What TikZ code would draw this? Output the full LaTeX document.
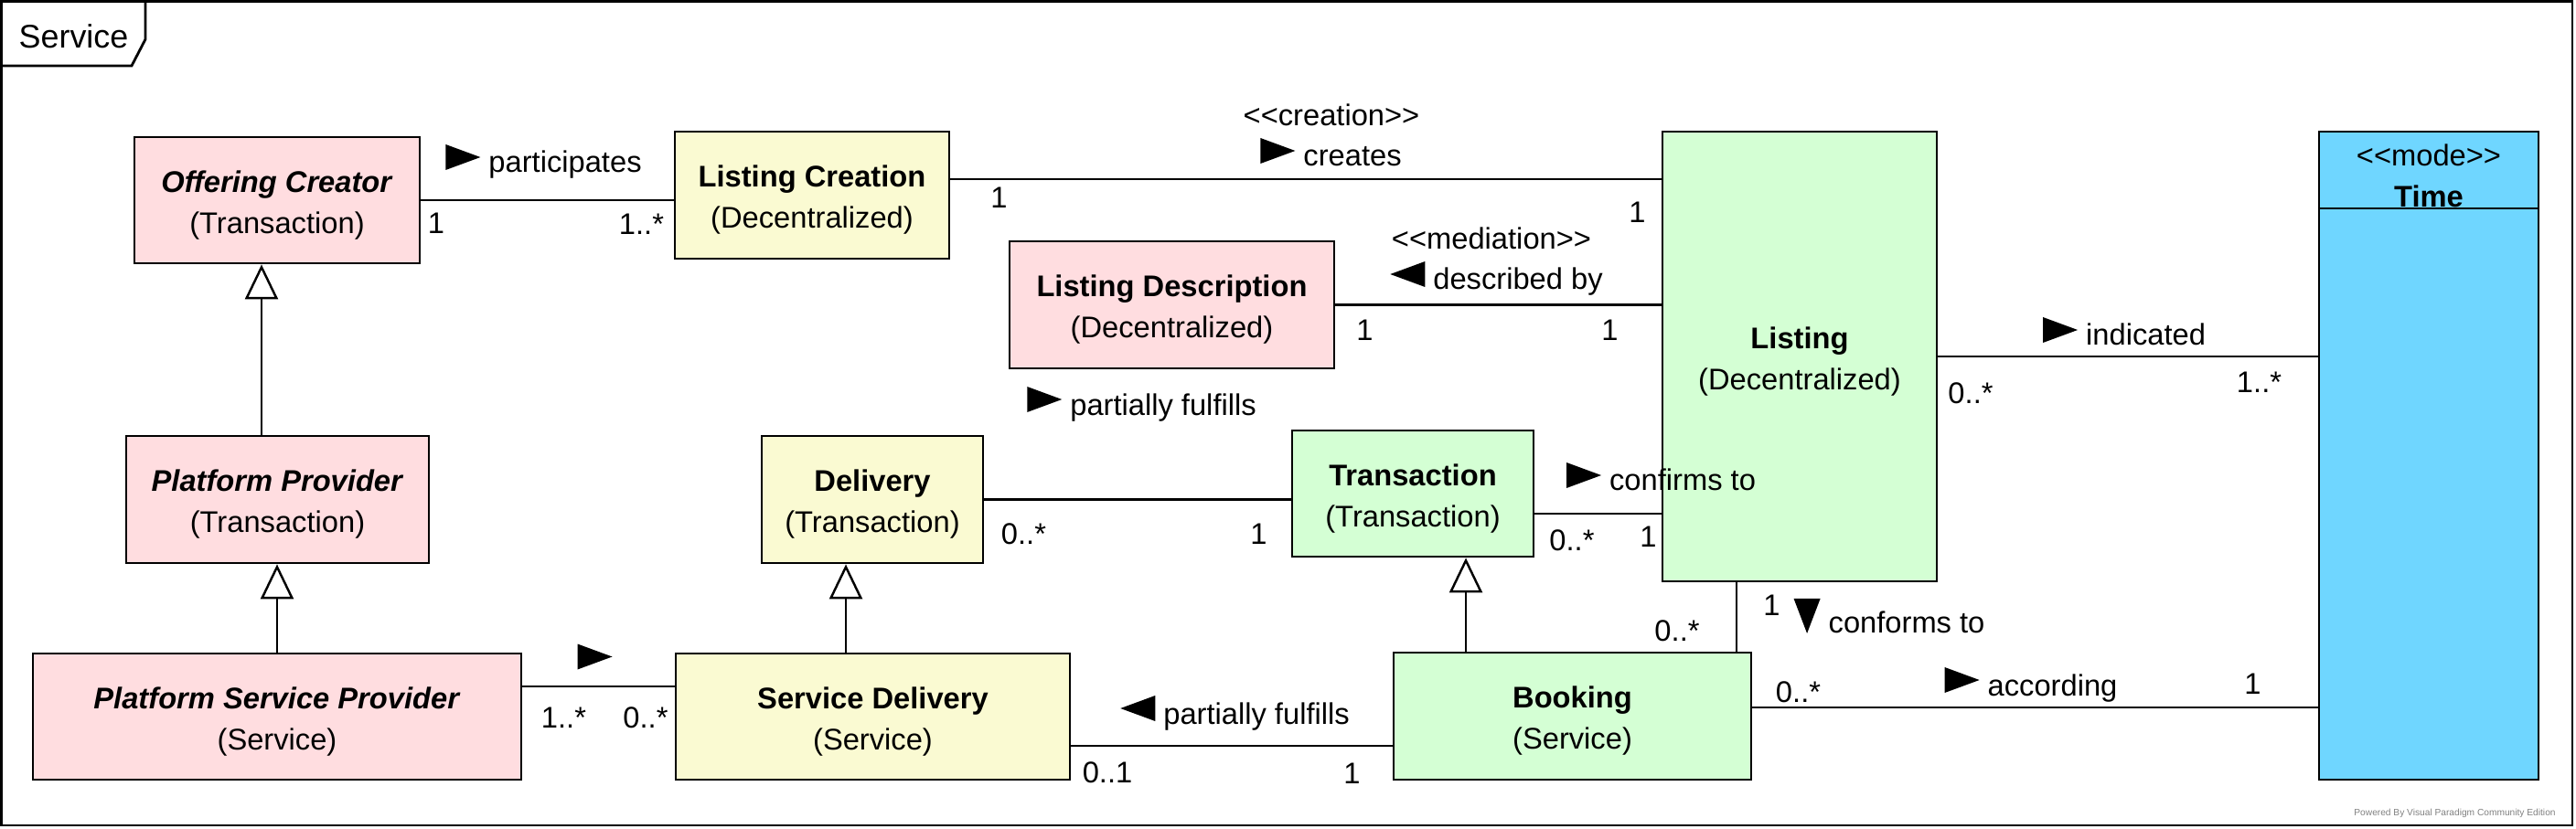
\documentclass[tikz,border=0pt]{standalone}
\usepackage{fontspec}
\setmainfont{Liberation Sans}
\usetikzlibrary{arrows.meta}

\definecolor{abstractpink}{RGB}{255,221,224}
\definecolor{decyellow}{RGB}{250,250,210}
\definecolor{servgreen}{RGB}{212,255,212}
\definecolor{modeblue}{RGB}{111,214,255}

% reading direction marks of the association names
\newcommand{\rtri}{\tikz[baseline=-0.03cm]\fill (0,0) -- (0,0.28) -- (0.38,0.14) -- cycle;}
\newcommand{\ltri}{\tikz[baseline=-0.03cm]\fill (0.38,0) -- (0.38,0.28) -- (0,0.14) -- cycle;}
\newcommand{\dtri}{\tikz[baseline=0cm]\fill (0,0.38) -- (0.29,0.38) -- (0.145,0) -- cycle;}
\newcommand{\stereo}[1]{<\kern0pt<#1>\kern0pt>}
% class name over its kind
\newcommand{\cls}[2]{\rule{0pt}{0.34cm}#1\\#2}

\begin{document}
\begin{tikzpicture}[
    font=\fontsize{9.3}{12.8}\selectfont,
    box/.style={draw, line width=0.8pt, align=center, inner sep=0pt, minimum height=1.38cm},
    assoc/.style={line width=0.8pt},
    gen/.style={line width=0.7pt, -{Triangle[length=0.38cm, width=0.36cm, fill=white]}},
    lbl/.style={inner sep=0pt, text height=0.24cm, text depth=0cm}
]
    \useasboundingbox (0,0) rectangle (28.17,9.06);

    % frame and its tab
    \draw[line width=0.8pt] (0.015,0.03) rectangle (28.13,9.045);
    \draw[line width=0.8pt] (0.015,8.34) -- (1.44,8.34) -- (1.59,8.63) -- (1.59,9.045);
    \node[font=\fontsize{10.2}{12}\selectfont] (frame) at (0.805,8.665) {Service};

    % classes (left)
    \node[box, fill=abstractpink, minimum width=3.12cm] (oc) at (3.03,6.87) {\cls{\textbf{\textit{Offering Creator}}}{(Transaction)}};
    \node[box, fill=abstractpink, minimum width=3.31cm, minimum height=1.39cm] (pp) at (3.035,3.595) {\cls{\textbf{\textit{Platform Provider}}}{(Transaction)}};
    \node[box, fill=abstractpink, minimum width=5.34cm] (psp) at (3.03,1.22) {\cls{\textbf{\textit{Platform Service Provider}}}{(Service)}};

    % classes (middle)
    \node[box, fill=decyellow, minimum width=3.00cm, minimum height=1.39cm] (lc) at (8.88,6.925) {\cls{\textbf{Listing Creation}}{(Decentralized)}};
    \node[box, fill=abstractpink, minimum width=3.55cm, minimum height=1.39cm] (ld) at (12.815,5.725) {\cls{\textbf{Listing Description}}{(Decentralized)}};
    \node[box, fill=decyellow, minimum width=2.42cm, minimum height=1.39cm] (dl) at (9.54,3.595) {\cls{\textbf{Delivery}}{(Transaction)}};
    \node[box, fill=decyellow, minimum width=4.31cm] (sd) at (9.545,1.22) {\cls{\textbf{Service Delivery}}{(Service)}};
    \node[box, fill=servgreen, minimum width=2.64cm] (tr) at (15.45,3.66) {\cls{\textbf{Transaction}}{(Transaction)}};
    \node[box, fill=servgreen, minimum width=3.91cm, minimum height=1.39cm] (bk) at (17.195,1.225) {\cls{\textbf{Booking}}{(Service)}};

    % classes (right)
    \node[box, fill=servgreen, minimum width=3.00cm, minimum height=4.92cm] (li) at (19.68,5.16) {\cls{\textbf{Listing}}{(Decentralized)}};
    \node[box, fill=modeblue, minimum width=2.40cm, minimum height=7.09cm] (tm) at (26.56,4.075) {};
    \node[inner sep=0pt, align=center] (tmhead) at (26.56,7.14) {\stereo{mode}\\\textbf{Time}};
    \coordinate (tmdiv) at (0,6.78);
    \draw[line width=0.8pt] (tm.west |- tmdiv) -- (tm.east |- tmdiv);

    % generalizations
    \coordinate (ppTop) at ([xshift=-0.175cm]pp.north);
    \draw[gen] (ppTop) -- (ppTop |- oc.south);
    \draw[gen] (psp.north) -- (psp.north |- pp.south);
    \coordinate (sdTop) at ([xshift=-0.295cm]sd.north);
    \draw[gen] (sdTop) -- (sdTop |- dl.south);
    \coordinate (bkTop) at ([xshift=-1.165cm]bk.north);
    \draw[gen] (bkTop) -- (bkTop |- tr.south);

    % associations
    \draw[assoc] (oc.east) -- (oc.east -| lc.west);
    \coordinate (crL) at ([yshift=0.175cm]lc.east);
    \draw[assoc] (crL) -- (crL -| li.west);
    \draw[assoc] (ld.east) -- (ld.east -| li.west);
    \draw[assoc] (li.east) -- (li.east -| tm.west);
    \draw[assoc] (dl.east) -- (dl.east -| tr.west);
    \coordinate (cfL) at ([yshift=-0.22cm]tr.east);
    \draw[assoc] (cfL) -- (cfL -| li.west);
    \coordinate (psR) at ([yshift=0.33cm]psp.east);
    \draw[assoc] (psR) -- (psR -| sd.west);
    \coordinate (pfL) at ([yshift=-0.32cm]sd.east);
    \draw[assoc] (pfL) -- (pfL -| bk.west);
    \coordinate (bkT) at ([xshift=1.795cm]bk.north);
    \draw[assoc] (bkT) -- (bkT |- li.south);
    \coordinate (bkR) at ([yshift=0.095cm]bk.east);
    \draw[assoc] (bkR) -- (bkR -| tm.west);

    % association names and multiplicities
    \node[lbl] (ptLbl) at (5.945,7.29) {\rtri\ participates};
    \node[lbl] (ptA) at (4.77,6.62) {1};
    \node[lbl] (ptB) at (7.015,6.61) {1..*};
    \node[lbl] (crSt) at (14.56,7.80) {\stereo{creation}};
    \node[lbl] (crLbl) at (14.555,7.36) {\rtri\ creates};
    \node[lbl] (crA) at (10.925,6.90) {1};
    \node[lbl] (crB) at (17.905,6.74) {1};
    \node[lbl] (dbSt) at (16.31,6.45) {\stereo{mediation}};
    \node[lbl] (dbLbl) at (16.365,6.01) {\ltri\ described by};
    \node[lbl] (dbA) at (14.925,5.45) {1};
    \node[lbl] (dbB) at (17.605,5.45) {1};
    \node[lbl] (inLbl) at (23.23,5.40) {\rtri\ indicated};
    \node[lbl] (inA) at (21.55,4.76) {0..*};
    \node[lbl] (inB) at (24.705,4.88) {1..*};
    \node[lbl] (dtLbl) at (12.485,4.64) {\rtri\ partially fulfills};
    \node[lbl] (dtA) at (11.195,3.23) {0..*};
    \node[lbl] (dtB) at (13.765,3.23) {1};
    \node[lbl] (cfLbl) at (18.165,3.81) {\rtri\ confirms to};
    \node[lbl] (cfA) at (17.19,3.15) {0..*};
    \node[lbl] (cfB) at (18.025,3.20) {1};
    \node[lbl] (psLbl) at (6.505,1.825) {\rtri};
    \node[lbl] (psA) at (6.165,1.22) {1..*};
    \node[lbl] (psB) at (7.06,1.22) {0..*};
    \node[lbl] (pfLbl) at (13.505,1.26) {\ltri\ partially fulfills};
    \node[lbl] (pfA) at (12.11,0.62) {0..1};
    \node[lbl] (pfB) at (14.785,0.61) {1};
    \node[lbl] (bcLbl) at (20.66,2.25) {\dtri\ conforms to};
    \node[lbl] (bcA) at (18.34,2.16) {0..*};
    \node[lbl] (bcB) at (19.375,2.45) {1};
    \node[lbl] (acLbl) at (22.21,1.57) {\rtri\ according};
    \node[lbl] (acA) at (19.665,1.50) {0..*};
    \node[lbl] (acB) at (24.635,1.59) {1};

    \node[text=gray, font=\fontsize{2.9}{3}\selectfont] (vp) at (26.845,0.16) {Powered By Visual Paradigm Community Edition};
\end{tikzpicture}
\end{document}
